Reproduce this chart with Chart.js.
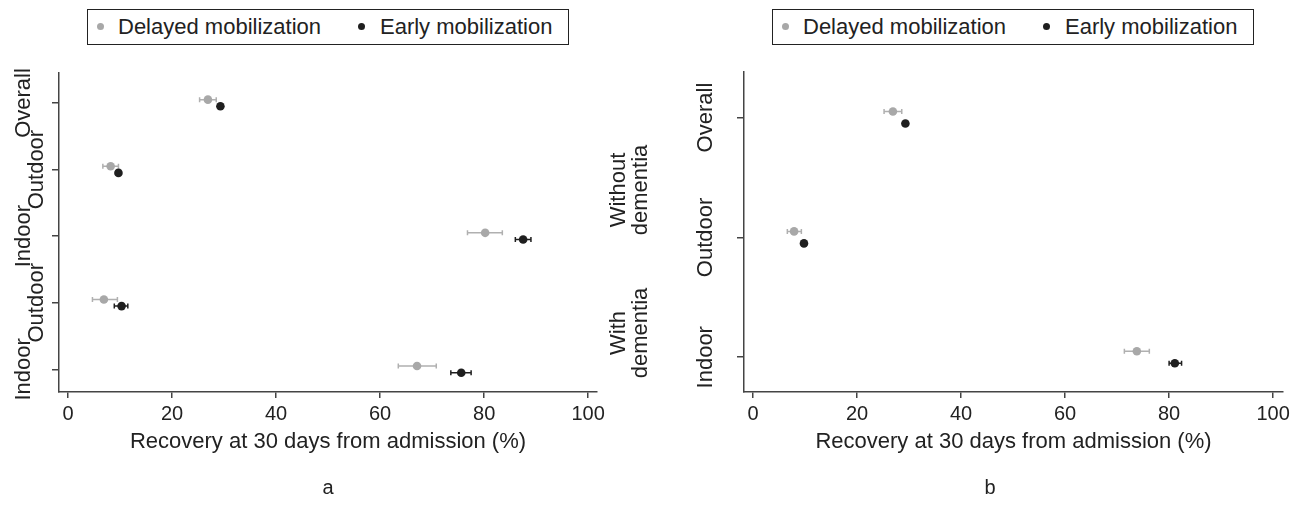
<!DOCTYPE html>
<html lang="en">
<head>
<meta charset="UTF-8">
<title>Recovery at 30 days from admission</title>
<script src="https://cdn.jsdelivr.net/npm/chart.js"></script>
<style>
  body { margin: 0; width: 1297px; height: 509px; background: #fff; position: relative; overflow: hidden;
         font-family: 'Liberation Sans', Arial, sans-serif; color: #222; }
  canvas { position: absolute; top: 0; }
  #chartA { left: 0; }
  #chartB { left: 660px; }
  .legend { position: absolute; top: 9px; width: 482px; height: 36px; border: 1px solid #222;
            box-sizing: border-box; font-size: 22px; }
  .legend span { position: absolute; top: 0; line-height: 34px; white-space: nowrap; }
  .legend .dot { width: 7px; height: 7px; border-radius: 50%; top: 13px; }
  .tag { position: absolute; top: 476px; font-size: 20px; width: 40px; margin-left: -20px; text-align: center; }
</style>
</head>
<body>

<div class="legend" style="left:87px">
  <span class="dot" style="left:9px;background:#a8a8a8"></span><span style="left:30px">Delayed mobilization</span>
  <span class="dot" style="left:270px;background:#1f1f1f"></span><span style="left:292px">Early mobilization</span>
</div>
<div class="legend" style="left:772px">
  <span class="dot" style="left:9px;background:#a8a8a8"></span><span style="left:30px">Delayed mobilization</span>
  <span class="dot" style="left:270px;background:#1f1f1f"></span><span style="left:292px">Early mobilization</span>
</div>

<canvas id="chartA" width="660" height="509"></canvas>
<canvas id="chartB" width="637" height="509"></canvas>

<div class="tag" style="left:328px">a</div>
<div class="tag" style="left:990px">b</div>

<script>
  const xTicks = [0, 20, 40, 60, 80, 100];
  const xTitle = 'Recovery at 30 days from admission (%)';

  // panel a : categories top to bottom
  const catsA = ['Overall', 'Outdoor', 'Indoor', 'Outdoor', 'Indoor'];
  const delayedA   = [26.9, 8.2, 80.2, 6.9, 67.1];
  const delayedLoA = [25.3, 6.7, 76.8, 4.7, 63.5];
  const delayedHiA = [28.5, 9.7, 83.5, 9.5, 70.8];
  const earlyA     = [29.3, 9.7, 87.5, 10.3, 75.6];
  const earlyLoA   = [28.9, 9.3, 86.0, 8.9, 73.6];
  const earlyHiA   = [29.7, 10.1, 89.0, 11.5, 77.5];

  // panel b
  const catsB = ['Overall', 'Outdoor', 'Indoor'];
  const delayedB   = [26.9, 7.9, 73.8];
  const delayedLoB = [25.2, 6.6, 71.4];
  const delayedHiB = [28.6, 9.3, 76.2];
  const earlyB     = [29.3, 9.8, 81.1];
  const earlyLoB   = [28.9, 9.4, 80.0];
  const earlyHiB   = [29.7, 10.2, 82.4];

  const grey = '#a8a8a8';
  const black = '#1f1f1f';
  const axisCol = '#444';
  const fontFam = "'Liberation Sans', Arial, sans-serif";
  const dodge = 0.05;

  // error bars behind the points
  const errorBars = {
    id: 'errorBars',
    beforeDatasetsDraw(chart) {
      const { ctx } = chart;
      const xs = chart.scales.x, ys = chart.scales.y;
      ctx.save();
      ctx.lineWidth = 1.5;
      chart.data.datasets.forEach(ds => {
        ctx.strokeStyle = ds.barColor;
        ds.data.forEach((p, i) => {
          const x1 = xs.getPixelForValue(ds.lo[i]);
          const x2 = xs.getPixelForValue(ds.hi[i]);
          const py = ys.getPixelForValue(p.y);
          ctx.beginPath();
          ctx.moveTo(x1, py); ctx.lineTo(x2, py);
          ctx.moveTo(x1, py - 2.5); ctx.lineTo(x1, py + 2.5);
          ctx.moveTo(x2, py - 2.5); ctx.lineTo(x2, py + 2.5);
          ctx.stroke();
        });
      });
      ctx.restore();
    }
  };

  // rotated category labels and group labels
  const sideLabels = {
    id: 'sideLabels',
    afterDraw(chart, args, opts) {
      const { ctx } = chart;
      const ys = chart.scales.y;
      ctx.save();
      ctx.font = '22px ' + fontFam;
      ctx.fillStyle = '#222';
      ctx.textAlign = 'center';
      ctx.textBaseline = 'alphabetic';
      const put = (txt, x, y) => {
        ctx.save();
        ctx.translate(x, y);
        ctx.rotate(-Math.PI / 2);
        ctx.fillText(txt, 0, 0);
        ctx.restore();
      };
      opts.cats.forEach((c, i) => put(c, opts.labelX(i), ys.getPixelForValue(i + 1)));
      (opts.groups || []).forEach(g => {
        g.lines.forEach((t, k) => put(t, g.x + k * 22, g.y));
      });
      ctx.restore();
    }
  };

  function makeChart(id, cats, d, dLo, dHi, e, eLo, eHi, cfg) {
    const delayedPts = d.map((v, i) => ({ x: v, y: i + 1 - dodge }));
    const earlyPts = e.map((v, i) => ({ x: v, y: i + 1 + dodge }));
    return new Chart(document.getElementById(id), {
      type: 'scatter',
      data: {
        datasets: [
          { label: 'Delayed mobilization', data: delayedPts, lo: dLo, hi: dHi, barColor: '#b0b0b0',
            backgroundColor: grey, borderWidth: 0, pointRadius: 4.3 },
          { label: 'Early mobilization', data: earlyPts, lo: eLo, hi: eHi, barColor: black,
            backgroundColor: black, borderWidth: 0, pointRadius: 4.3 }
        ]
      },
      options: {
        responsive: false,
        animation: false,
        layout: { padding: { left: 0, right: cfg.padRight, top: cfg.top, bottom: 0 } },
        plugins: {
          legend: { display: false },
          tooltip: { enabled: false },
          sideLabels: { cats: cats, labelX: cfg.labelX, groups: cfg.groups }
        },
        scales: {
          x: {
            type: 'linear', min: -1.73, max: cfg.xMax,
            afterBuildTicks: s => { s.ticks = xTicks.map(v => ({ value: v })); },
            afterFit: s => { s.height = 117; },
            grid: { drawOnChartArea: false, tickLength: 6, color: axisCol, lineWidth: 1.5 },
            border: { color: axisCol, width: 1.5 },
            ticks: { font: { family: fontFam, size: 20 }, color: '#222', padding: 4, maxRotation: 0 },
            title: { display: true, text: xTitle, color: '#222', font: { family: fontFam, size: 22 },
                     padding: { top: 0, bottom: 54 } }
          },
          y: {
            type: 'linear', reverse: true, min: cfg.yMin, max: cfg.yMax,
            afterBuildTicks: s => { s.ticks = cats.map((c, i) => ({ value: i + 1 })); },
            afterFit: s => { s.width = cfg.yWidth; },
            grid: { drawOnChartArea: false, tickLength: 7, color: axisCol, lineWidth: 1.5 },
            border: { color: axisCol, width: 1.5 },
            ticks: { display: false }
          }
        }
      },
      plugins: [errorBars, sideLabels]
    });
  }

  makeChart('chartA', catsA, delayedA, delayedLoA, delayedHiA, earlyA, earlyLoA, earlyHiA, {
    top: 73, padRight: 63, yWidth: 59, xMax: 101.7, yMin: 0.55, yMax: 5.34,
    labelX: i => (i % 2 === 1 ? 43 : 30),
    groups: [
      { lines: ['Without', 'dementia'], x: 625, y: 190 },
      { lines: ['With', 'dementia'], x: 625, y: 333 }
    ]
  });

  makeChart('chartB', catsB, delayedB, delayedLoB, delayedHiB, earlyB, earlyLoB, earlyHiB, {
    top: 72, padRight: 14, yWidth: 84, xMax: 101.9, yMin: 0.62, yMax: 3.29,
    labelX: () => 52
  });
</script>
</body>
</html>
